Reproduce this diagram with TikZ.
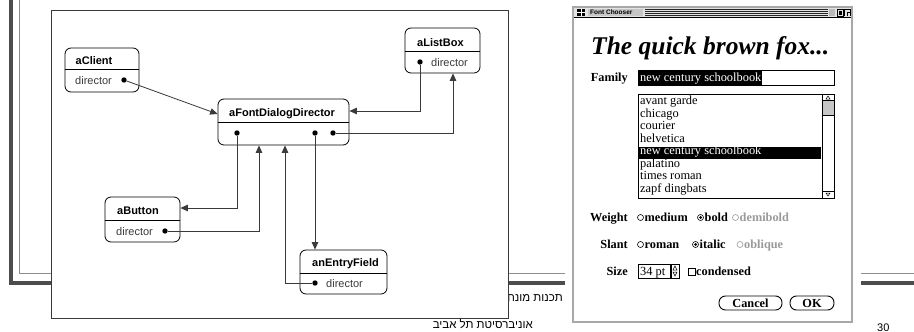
\documentclass[tikz,border=0pt]{standalone}
\usepackage{fontspec}
\setmainfont{Liberation Sans}
\newfontfamily\hebfont[Script=Hebrew]{Liberation Sans}
\newfontfamily\dlgfont{Liberation Serif}
\usetikzlibrary{arrows.meta}
\TeXXeTstate=1

\definecolor{ink}{HTML}{3A3A3A}
\definecolor{framedark}{HTML}{4D4D4D}
\definecolor{framelight}{HTML}{8C8C8C}
\definecolor{greyout}{HTML}{9A9A9A}
\definecolor{dlgborder}{HTML}{A8A8A8}

\tikzset{
  objbox/.style={draw=black, line width=0.8pt, rounded corners=6pt, fill=white, inner sep=0pt},
  objtitle/.style={font=\bfseries\fontsize{11}{11}\selectfont, inner sep=0pt, anchor=base west},
  objattr/.style={font=\fontsize{11}{11}\selectfont, text=ink, inner sep=0pt, anchor=base west},
  refdot/.style={circle, fill=black, inner sep=0pt, minimum size=5.4pt},
  conn/.style={draw=ink, line width=0.8pt, -{Triangle[length=7.5pt,width=6.5pt]}},
  divider/.style={draw=black, line width=0.8pt},
  dlglabel/.style={font=\dlgfont\bfseries\fontsize{12.3}{12.3}\selectfont, inner sep=0pt, anchor=base east},
  dlgbold/.style={font=\dlgfont\bfseries\fontsize{12.3}{12.3}\selectfont, inner sep=0pt, anchor=base west},
  dlgitem/.style={font=\dlgfont\fontsize{12.4}{12.4}\selectfont, inner sep=0pt, anchor=base west},
  radio/.style={circle, draw=black, line width=0.6pt, inner sep=0pt, minimum size=6pt},
  footer/.style={font=\hebfont\fontsize{11.5}{11.5}\selectfont, inner sep=0pt, anchor=base east},
}

\begin{document}
\begin{tikzpicture}[x=1pt,y=-1pt]
\useasboundingbox (0,0) rectangle (914,332);
\fill[white] (0,0) rectangle (914,332);

% slide frame
\fill[framedark] (9,0) rectangle (13,285);
\fill[framedark] (9,281) rectangle (914,285);
\draw[framelight, line width=0.9pt] (19.5,0) -- (19.5,273) -- (914,273);

% footer
\node[footer] (course) at (563,301) {\beginR תכנות מונחה עצמים\endR};
\node[footer] (univ) at (533,328) {\beginR אוניברסיטת תל אביב\endR};
\node[font=\fontsize{11}{11}\selectfont, anchor=base west, inner sep=0pt] (pageno) at (877,331) {30};

% ---------------- object diagram ----------------
\draw[ink, line width=0.8pt, fill=white] (51.5,10.5) rectangle (508,318);

% aClient
\node[objbox, minimum width=74pt, minimum height=44pt] (client) at (102,70) {};
\draw[divider] (client.west |- 0,69) -- (client.east |- 0,69);
\node[objtitle] (clientT) at (75.5,64) {aClient};
\node[objattr] (clientA) at (75,84) {director};
\node[refdot] (cdot) at (124,80) {};

% aListBox
\node[objbox, minimum width=75pt, minimum height=45pt] (lb) at (442.5,50.5) {};
\draw[divider] (lb.west |- 0,51) -- (lb.east |- 0,51);
\node[objtitle] (lbT) at (417,46) {aListBox};
\node[objattr] (lbA) at (431,66) {director};
\node[refdot] (lbdot) at (420,62) {};

% aFontDialogDirector
\node[objbox, minimum width=131pt, minimum height=46pt] (dir) at (283.5,122) {};
\draw[divider] (dir.west |- 0,122) -- (dir.east |- 0,122);
\node[objtitle] (dirT) at (229,116) {aFontDialogDirector};
\node[refdot] (fd1) at (237,133) {};
\node[refdot] (fd2) at (315,133) {};
\node[refdot] (fd3) at (333,133) {};

% aButton
\node[objbox, minimum width=75pt, minimum height=45pt] (btn) at (142.5,219.5) {};
\draw[divider] (btn.west |- 0,220) -- (btn.east |- 0,220);
\node[objtitle] (btnT) at (117,214) {aButton};
\node[objattr] (btnA) at (116,235) {director};
\node[refdot] (bdot) at (165,231) {};

% anEntryField
\node[objbox, minimum width=87pt, minimum height=44pt] (entry) at (343.5,272) {};
\draw[divider] (entry.west |- 0,273) -- (entry.east |- 0,273);
\node[objtitle] (entryT) at (312,266) {anEntryField};
\node[objattr] (entryA) at (326,287) {director};
\node[refdot] (edot) at (315,283) {};

% references
\draw[conn] (cdot) -- (dir.west |- 0,114);
\draw[conn] (lbdot) |- (dir.east |- 0,111);
\draw[conn] (fd3) -| (lb.south -| 453,0);
\draw[conn] (fd1) |- (btn.east |- 0,208);
\draw[conn] (bdot) -| (dir.south -| 259,0);
\draw[conn] (fd2) -- (entry.north -| fd2);
\draw[conn] (edot) -| (dir.south -| 285,0);

% ---------------- font chooser window ----------------
\fill[white] (565,0) rectangle (861,332);
\draw[dlgborder, line width=1.5pt, fill=white] (573,7) rectangle (852,322);

% title bar
\fill[gray!22] (574,8) rectangle (851,17);
\draw[black, line width=0.6pt] (574,17) -- (851,17);
\fill[black] (577,9) rectangle (585,15.5);
\draw[white, line width=0.5pt] (577,12.2) -- (585,12.2) (581,9) -- (581,15.5);
\fill[gray!45] (588,9) rectangle (643,16);
\node[font=\bfseries\fontsize{6.5}{6.5}\selectfont, anchor=west, inner sep=0pt] (wtitle) at (590,12.6) {Font Chooser};
\foreach \yy in {9.7,11.7,13.7,15.7}
  \draw[gray!30!black, line width=0.9pt] (645,\yy) -- (828,\yy);
\fill[gray!55] (829,9) rectangle (835,16);
\draw[black, line width=0.5pt] (837,9) rectangle (843,16);
\fill[black] (838.5,10.5) rectangle (841.5,14.5);
\draw[black, line width=0.6pt] (844.5,16) -- (844.5,9.5) -- (850.5,9.5) -- (850.5,16);
\draw[black, line width=0.6pt] (847,16) -- (847,12) -- (850.5,12);

% sample text
\node[font=\dlgfont\bfseries\itshape\fontsize{25.5}{25.5}\selectfont, anchor=base west, inner sep=0pt] (sample) at (591,54) {The quick brown fox...};

% family field
\node[dlglabel] (famL) at (628,81) {Family};
\draw[black, line width=0.8pt] (638,70) rectangle (834,85.5);
\node[dlgitem, text=white, fill=black, inner xsep=1pt, inner ysep=1pt] (famV) at (639,81) {new century schoolbook};

% family list
\draw[black, line width=0.9pt] (638,94) rectangle (834,198);
\fill[black] (639,147) rectangle (820.5,158.5);
\node[dlgitem] (it1) at (640,104.5) {avant garde};
\node[dlgitem] (it2) at (640,117) {chicago};
\node[dlgitem] (it3) at (640,129.5) {courier};
\node[dlgitem] (it4) at (640,142) {helvetica};
\node[dlgitem, text=white] (it5) at (640,154.5) {new century schoolbook};
\node[dlgitem] (it6) at (640,167) {palatino};
\node[dlgitem] (it7) at (640,179.5) {times roman};
\node[dlgitem] (it8) at (640,192) {zapf dingbats};

% scroll bar
\draw[black, line width=1pt] (822,94) -- (822,198);
\draw[black, line width=0.5pt] (822,100.5) -- (834,100.5) (822,191) -- (834,191);
\fill[gray!45] (822.5,101) rectangle (833.5,115);
\draw[black, line width=0.5pt] (822,115) -- (834,115);
\draw[black, line width=0.5pt] (826,99) -- (828,96) -- (830,99) -- cycle;
\draw[black, line width=0.5pt] (826,193) -- (828,196) -- (830,193) -- cycle;

% weight
\node[dlglabel] (wL) at (628,221) {Weight};
\node[radio] (wr1) at (640.5,217.5) {};
\node[dlgbold] (wo1) at (644.5,221) {medium};
\node[radio] (wr2) at (700.5,217.5) {};
\fill[black] (wr2) circle (1.5pt);
\node[dlgbold] (wo2) at (704.5,221) {bold};
\node[radio, draw=greyout] (wr3) at (735.5,217.5) {};
\node[dlgbold, text=greyout] (wo3) at (739.5,221) {demibold};

% slant
\node[dlglabel] (sL) at (628,248) {Slant};
\node[radio] (sr1) at (640.5,244.5) {};
\node[dlgbold] (so1) at (644.5,248) {roman};
\node[radio] (sr2) at (695.5,244.5) {};
\fill[black] (sr2) circle (1.5pt);
\node[dlgbold] (so2) at (699.5,248) {italic};
\node[radio, draw=greyout] (sr3) at (740,244.5) {};
\node[dlgbold, text=greyout] (so3) at (744,248) {oblique};

% size
\node[dlglabel] (zL) at (628,275) {Size};
\draw[black, line width=0.8pt] (638,264) rectangle (670,278);
\node[dlgitem] (zV) at (640,275) {34 pt};
\draw[black, line width=0.5pt] (671,264) rectangle (679,278);
\draw[black, line width=0.5pt] (673,270) -- (675,266) -- (677,270) -- cycle;
\draw[black, line width=0.5pt] (673,272) -- (675,276) -- (677,272) -- cycle;
\draw[black, line width=0.7pt] (688,268) rectangle (695,275);
\node[dlgbold] (cond) at (696,275) {condensed};

% buttons
\draw[black, line width=0.9pt, rounded corners=6.5pt] (719,296) rectangle (782,310);
\node[dlgbold, anchor=base] (cancel) at (750.5,307) {Cancel};
\draw[black, line width=0.9pt, rounded corners=6.5pt] (790,296) rectangle (834,310);
\node[dlgbold, anchor=base] (ok) at (812,307) {OK};
\end{tikzpicture}
\end{document}
